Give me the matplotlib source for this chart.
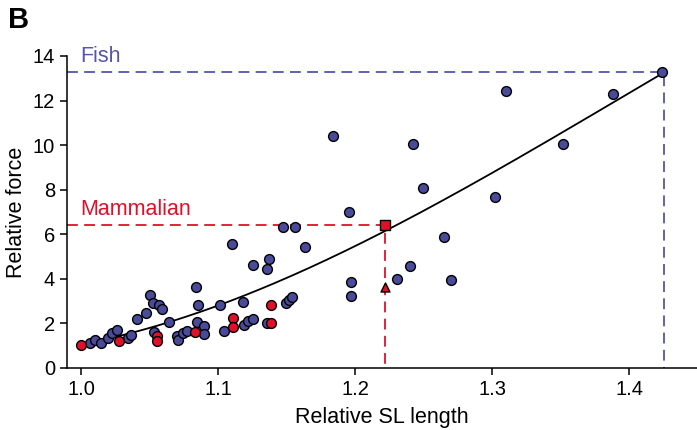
import numpy as np
import matplotlib
matplotlib.use("Agg")
import matplotlib.pyplot as plt

plt.rcParams['font.family'] = ['Liberation Sans', 'DejaVu Sans']

# Fish (blue) data
fish_x = [1.0066, 1.0102, 1.0146, 1.0197, 1.0226, 1.0263, 1.0343, 1.0365, 1.0409, 1.0474,
          1.0504, 1.0526, 1.0569, 1.0591, 1.0642, 1.0533, 1.0701, 1.0708, 1.0745, 1.0774,
          1.0847, 1.0898, 1.0898, 1.0839, 1.0854, 1.1015, 1.1044, 1.1182, 1.1102, 1.1190,
          1.1219, 1.1255, 1.1255, 1.1358, 1.1372, 1.1358, 1.1500, 1.1518, 1.1540, 1.1474,
          1.1562, 1.1635, 1.1840, 1.1956, 1.1970, 1.1970, 1.2307, 1.2400, 1.2423, 1.2496,
          1.2650, 1.2700, 1.3020, 1.3100, 1.3520, 1.3880, 1.4240]
fish_y = [1.12, 1.26, 1.12, 1.35, 1.57, 1.70, 1.35, 1.48, 2.20, 2.47,
          3.27, 2.92, 2.83, 2.65, 2.06, 1.62, 1.44, 1.26, 1.57, 1.66,
          2.06, 1.88, 1.53, 3.63, 2.83, 2.83, 1.66, 2.96, 5.56, 1.93,
          2.11, 2.20, 4.62, 4.44, 4.89, 2.02, 2.92, 3.05, 3.19, 6.33,
          6.33, 5.43, 10.41, 7.00, 3.86, 3.23, 3.99, 4.58, 10.05, 8.08,
          5.88, 3.95, 7.67, 12.43, 10.05, 12.29, 13.28]

# Mammalian (red) data
mam_x = [1.0, 1.0277, 1.0555, 1.0555, 1.0832, 1.1110, 1.1110, 1.1387, 1.1387]
mam_y = [1.03, 1.21, 1.44, 1.21, 1.62, 2.24, 1.84, 2.83, 2.02]
mam_square = (1.222, 6.42)
mam_triangle = (1.222, 3.63)

fish_max = (1.4255, 13.28)
mam_max = (1.222, 6.42)

# fitted curve
curve_x = [1.0, 1.061, 1.1, 1.155, 1.222, 1.306, 1.352, 1.4255]
curve_y = [1.0, 2.15, 2.83, 3.95, 6.25, 8.97, 10.6, 13.25]

blue = '#4a4a9a'
red = '#e0102a'
dblue = '#5555aa'

fig = plt.figure(figsize=(6.97, 4.30), dpi=100)
ax = fig.add_axes([0.0961, 0.1442, 0.9039, 0.7256])

ax.set_xlim(0.9898, 1.4496)
ax.set_ylim(0, 14)

# dashed guide lines
ax.plot([0.9898, fish_max[0], fish_max[0]], [fish_max[1], fish_max[1], 0],
        color=dblue, lw=1.3, dashes=(6, 3.5), clip_on=False, zorder=1)
ax.plot([0.9898, mam_max[0], mam_max[0]], [mam_max[1], mam_max[1], 0],
        color=red, lw=1.3, dashes=(6, 3.5), clip_on=False, zorder=1)

# curve
coef = np.polyfit(curve_x, curve_y, 3)
xx = np.linspace(curve_x[0], curve_x[-1], 200)
ax.plot(xx, np.polyval(coef, xx), color='black', lw=1.3, zorder=2)

ax.scatter(fish_x, fish_y, s=50, color=blue, edgecolor='black', linewidth=1.0,
           zorder=3, clip_on=False)
ax.scatter(mam_x, mam_y, s=50, color=red, edgecolor='black', linewidth=1.0,
           zorder=4, clip_on=False)
ax.scatter([mam_square[0]], [mam_square[1]], marker='s', s=42, color=red,
           edgecolor='black', linewidth=1.0, zorder=4)
ax.scatter([mam_triangle[0]], [mam_triangle[1]], marker='^', s=42, color=red,
           edgecolor='black', linewidth=1.0, zorder=4)

ax.text(0.9995, 13.5, 'Fish', color=dblue, fontsize=15.5, ha='left', va='bottom')
ax.text(0.9995, 6.65, 'Mammalian', color=red, fontsize=15.5, ha='left', va='bottom')

for s in ['top', 'right']:
    ax.spines[s].set_visible(False)
for s in ['left', 'bottom']:
    ax.spines[s].set_linewidth(1.1)

ax.set_xticks([1.0, 1.1, 1.2, 1.3, 1.4])
ax.set_xticklabels(['1.0', '1.1', '1.2', '1.3', '1.4'])
ax.set_yticks(range(0, 15, 2))
ax.tick_params(direction='out', length=5, width=1.1, labelsize=14.5)

ax.set_xlabel('Relative SL length', fontsize=15.5, labelpad=6)
ax.set_ylabel('Relative force', fontsize=15.5, labelpad=4)

fig.text(0.012, 0.985, 'B', fontsize=21, fontweight='bold', va='top', ha='left')

fig.savefig('out.png', dpi=100)
